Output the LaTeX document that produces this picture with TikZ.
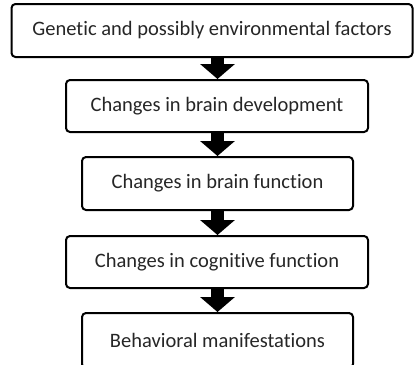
\documentclass[tikz,border=0pt]{standalone}
\usepackage{fontspec}
\setmainfont[Ligatures=NoCommon]{Carlito}
\usetikzlibrary{arrows.meta}
\begin{document}
\begin{tikzpicture}[x=1pt,y=-1pt,
  boxstyle/.style={draw=black, line width=2pt, rounded corners=4pt, fill=white,
    inner sep=0pt, font=\fontsize{20.5}{24}\selectfont, text=black!85},
  fatarrow/.style={line width=13pt, -{Triangle[width=34pt,length=15pt]}}]
\useasboundingbox (0,0) rectangle (414,364);
\clip (0,0) rectangle (414,364);
\fill[white] (0,0) rectangle (414,364);
\node[boxstyle, minimum width=401pt, minimum height=53pt] (b1) at (212,30.5) {Genetic and possibly environmental factors};
\node[boxstyle, minimum width=302pt, minimum height=52pt] (b2) at (217,106) {Changes in brain development};
\node[boxstyle, minimum width=271pt, minimum height=53pt] (b3) at (217.5,183.5) {Changes in brain function};
\node[boxstyle, minimum width=302pt, minimum height=52pt] (b4) at (217,262) {Changes in cognitive function};
\node[boxstyle, minimum width=271pt, minimum height=55pt] (b5) at (217.5,340.5) {Behavioral manifestations};
\draw[fatarrow] (b1.south -| 217.5,0) -- (b2.north -| 217.5,0);
\draw[fatarrow] (b2.south -| 217.5,0) -- (b3.north -| 217.5,0);
\draw[fatarrow] (b3.south -| 217.5,0) -- (b4.north -| 217.5,0);
\draw[fatarrow] (b4.south -| 217.5,0) -- (b5.north -| 217.5,0);
\end{tikzpicture}
\end{document}
